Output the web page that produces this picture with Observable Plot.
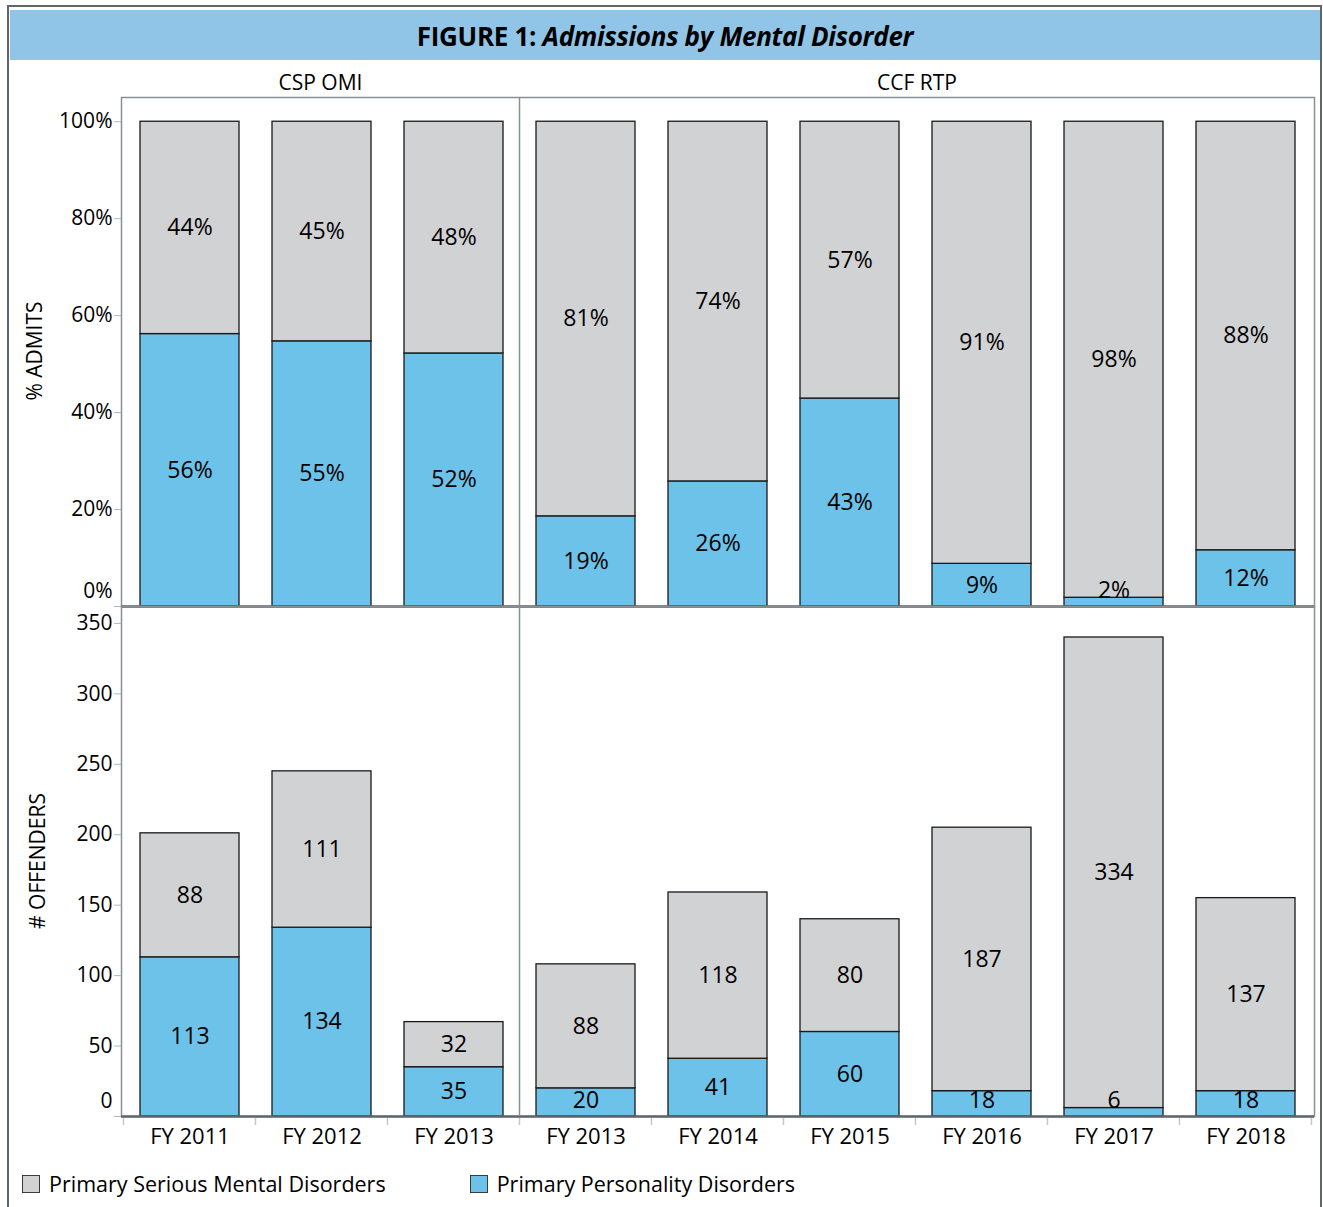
<!DOCTYPE html>
<html>
<head>
<meta charset="utf-8">
<script src="https://cdn.jsdelivr.net/npm/d3@7"></script>
<script src="https://cdn.jsdelivr.net/npm/@observablehq/plot@0.6"></script>
<style>
html,body{margin:0;padding:0;background:#fff;overflow:hidden;}
#wrap{position:relative;width:1323px;height:1207px;overflow:hidden;font-family:"Open Sans",sans-serif;color:#000;}
#outer{position:absolute;left:7px;top:5px;width:1311px;height:1300px;border:2px solid #5f666d;border-bottom:none;}
#title{position:absolute;left:10px;top:10px;width:1310px;height:50px;background:#90c5e8;text-align:center;line-height:53px;font-size:26px;font-weight:700;letter-spacing:-0.3px;}
.facet{position:absolute;top:68px;font-size:21px;text-align:center;line-height:28px;}
.ytitle{position:absolute;width:400px;text-align:center;font-size:21px;line-height:26px;transform:translate(-50%,-50%) rotate(-90deg);}
.chart{position:absolute;left:0;}
.chart svg{overflow:visible;}
#legend{position:absolute;left:22px;top:1170px;font-size:21.5px;line-height:28px;display:flex;align-items:center;}
.item{display:flex;align-items:center;}
.sw{width:16px;height:16px;border:1.5px solid #3a3a3a;margin-right:9px;}
</style>
</head>
<body>
<div id="wrap">
  <div id="outer"></div>
  <div id="title">FIGURE 1: <i>Admissions by Mental Disorder</i></div>
  <div class="facet" style="left:121px;width:399px;">CSP OMI</div>
  <div class="facet" style="left:520px;width:794px;">CCF RTP</div>
  <div class="chart" id="topChart" style="top:97px;"></div>
  <div class="chart" id="bottomChart" style="top:606px;"></div>
  <div class="ytitle" style="left:34px;top:351px;">% ADMITS</div>
  <div class="ytitle" style="left:37px;top:861px;"># OFFENDERS</div>
  <div id="legend"></div>
</div>
<script>
// ---- data ----
const facilities = ["CSP OMI","CSP OMI","CSP OMI","CCF RTP","CCF RTP","CCF RTP","CCF RTP","CCF RTP","CCF RTP"];
const years = ["FY 2011","FY 2012","FY 2013","FY 2013","FY 2014","FY 2015","FY 2016","FY 2017","FY 2018"];
const seriesNames = ["Primary Serious Mental Disorders","Primary Personality Disorders"];
const pctPersonality = [56.2, 54.7, 52.2, 18.6, 25.8, 42.9, 8.8, 1.8, 11.6];
const pctSerious     = [43.8, 45.3, 47.8, 81.4, 74.2, 57.1, 91.2, 98.2, 88.4];
const countPersonality = [113, 134, 35, 20, 41, 60, 18, 6, 18];
const countSerious     = [88, 111, 32, 88, 118, 80, 187, 334, 137];
const pctTicks = [0, 20, 40, 60, 80, 100];
const countTicks = [0, 50, 100, 150, 200, 250, 300, 350];

const GRAY = "#d1d2d4", BLUE = "#6cc2e8", FRAME = "#8a8f94", DARK = "#5f666d";

const keys = facilities.map((f, i) => f + "|" + years[i]);
const yearOf = k => years[keys.indexOf(k)];

function stackRows(pers, ser) {
  const rows = [];
  keys.forEach((k, i) => rows.push({key: k, series: seriesNames[1], value: pers[i]}));
  keys.forEach((k, i) => rows.push({key: k, series: seriesNames[0], value: ser[i]}));
  return rows;
}
function labelRows(pers, ser, fmt, minY) {
  const rows = [];
  keys.forEach((k, i) => {
    rows.push({key: k, y: Math.max(pers[i] / 2, minY), text: fmt(pers[i])});
    rows.push({key: k, y: pers[i] + ser[i] / 2, text: fmt(ser[i])});
  });
  return rows;
}

const xScale = {domain: keys, paddingInner: 0.25, paddingOuter: 0.125};
const common = {
  width: 1323, marginLeft: 121, marginRight: 9,
  style: {fontFamily: "'Open Sans', sans-serif", fontSize: "21px", color: "#000", background: "transparent", overflow: "visible"}
};

function boundaries(withTicks) {
  return (index, scales, values, dims) => {
    const x = scales.x;
    const half = (x.step() - x.bandwidth()) / 2;
    const dom = x.domain();
    const g = d3.create("svg:g");
    const top = dims.marginTop, bottom = dims.height - dims.marginBottom;
    const firstOther = dom[facilities.findIndex(f => f !== facilities[0])];
    const xd = x(firstOther) - half;
    g.append("line").attr("x1", xd).attr("x2", xd).attr("y1", top).attr("y2", bottom)
      .attr("stroke", FRAME).attr("stroke-width", 1.5);
    if (withTicks) {
      const bs = dom.map(k => x(k) - half).concat([x(dom[dom.length - 1]) + x.bandwidth() + half]);
      for (const b of bs) {
        g.append("line").attr("x1", b).attr("x2", b).attr("y1", bottom + 2).attr("y2", bottom + 9)
          .attr("stroke", "#c4c6c8").attr("stroke-width", 1.5);
      }
    }
    return g.node();
  };
}

const topPlot = Plot.plot({
  ...common,
  height: 509, marginTop: 0, marginBottom: 0,
  x: {...xScale, axis: null},
  y: {domain: [0, 105]},
  color: {domain: seriesNames, range: [GRAY, BLUE]},
  marks: [
    Plot.frame({stroke: FRAME, strokeWidth: 1.5}),
    Plot.barY(stackRows(pctPersonality, pctSerious), {x: "key", y: "value", fill: "series", stroke: "#1a1a1a", strokeWidth: 1.3}),
    Plot.text(labelRows(pctPersonality, pctSerious, v => Math.round(v) + "%", 3.3), {x: "key", y: "y", text: "text", fontSize: 23, fill: "#000"}),
    Plot.ruleY([0], {stroke: DARK, strokeWidth: 2.5}),
    Plot.axisY(pctTicks, {tickFormat: d => d === 0 ? "" : d + "%", tickSize: 7, tickPadding: 2, stroke: "#b4b6b8", fill: "#000", fontSize: 21, label: null}),
    Plot.axisY([0], {tickFormat: d => d + "%", tickSize: 0, tickPadding: 9, dy: -15, fill: "#000", fontSize: 21, label: null}),
    boundaries(false)
  ]
});
document.getElementById("topChart").append(topPlot);

const bottomPlot = Plot.plot({
  ...common,
  height: 560, marginTop: 0, marginBottom: 50,
  x: {...xScale},
  y: {domain: [0, 362]},
  color: {domain: seriesNames, range: [GRAY, BLUE]},
  marks: [
    Plot.frame({stroke: FRAME, strokeWidth: 1.5}),
    Plot.barY(stackRows(countPersonality, countSerious), {x: "key", y: "value", fill: "series", stroke: "#1a1a1a", strokeWidth: 1.3}),
    Plot.text(labelRows(countPersonality, countSerious, v => String(v), 11), {x: "key", y: "y", text: "text", fontSize: 23, fill: "#000"}),
    Plot.ruleY([0], {stroke: DARK, strokeWidth: 2.5}),
    Plot.axisY(countTicks, {tickFormat: d => d === 0 ? "" : String(d), tickSize: 7, tickPadding: 2, stroke: "#b4b6b8", fill: "#000", fontSize: 21, label: null}),
    Plot.axisY([0], {tickFormat: d => String(d), tickSize: 0, tickPadding: 9, dy: -15, fill: "#000", fontSize: 21, label: null}),
    Plot.axisX({tickFormat: yearOf, tickSize: 0, tickPadding: 12, fontSize: 22, fill: "#000", label: null}),
    boundaries(true)
  ]
});
document.getElementById("bottomChart").append(bottomPlot);

// legend
const legend = document.getElementById("legend");
[[seriesNames[0], GRAY, 0], [seriesNames[1], BLUE, 84]].forEach(([name, color, gap]) => {
  const it = document.createElement("div");
  it.className = "item";
  it.style.marginLeft = gap + "px";
  const sw = document.createElement("div");
  sw.className = "sw";
  sw.style.background = color;
  const t = document.createElement("span");
  t.textContent = name;
  it.append(sw, t);
  legend.append(it);
});
</script>
</body>
</html>
